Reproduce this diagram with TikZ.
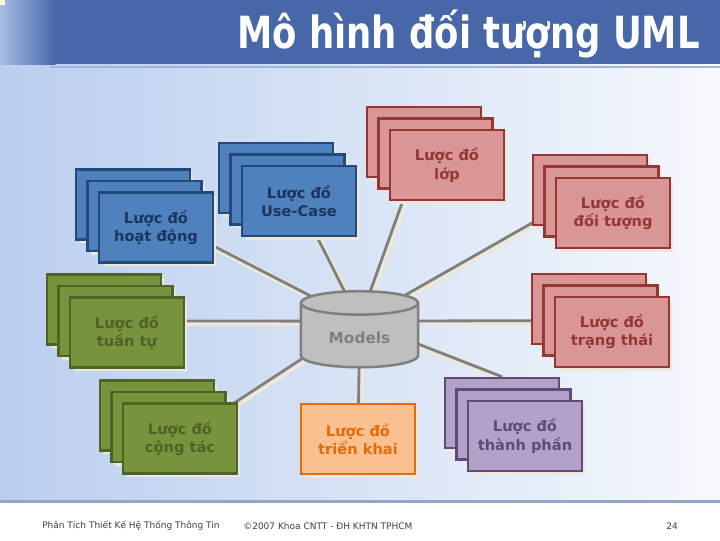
\documentclass[tikz,border=0pt]{standalone}
\usepackage{fontspec}
\setmainfont{DejaVu Sans}
\newfontfamily\titlefont{DejaVu Sans}[FakeStretch=0.8]
\usetikzlibrary{shapes.geometric,shadows,calc}
\definecolor{SlideLeft}{HTML}{BACEEE}
\definecolor{SlideRight}{HTML}{F6F9FD}
\definecolor{BarBlue}{HTML}{4767A9}
\definecolor{BarEdge}{HTML}{A6BDE6}
\definecolor{BarRule}{HTML}{9DB5E0}
\definecolor{FootRule}{HTML}{93A6C6}
\definecolor{FootText}{HTML}{404040}
\definecolor{Glow}{HTML}{ECE8DC}
\definecolor{LinkGray}{HTML}{7F7F7F}
\definecolor{BlueFill}{HTML}{4F81BD}
\definecolor{BlueLine}{HTML}{234A7C}
\definecolor{BlueText}{HTML}{1B3560}
\definecolor{RedFill}{HTML}{D99694}
\definecolor{RedLine}{HTML}{943634}
\definecolor{GreenFill}{HTML}{77933C}
\definecolor{GreenLine}{HTML}{4F6228}
\definecolor{OrangeFill}{HTML}{FAC090}
\definecolor{OrangeLine}{HTML}{E46C0A}
\definecolor{PurpleFill}{HTML}{B3A2C7}
\definecolor{PurpleLine}{HTML}{604A7B}
\definecolor{StoreFill}{HTML}{BFBFBF}
\definecolor{StoreLine}{HTML}{7F7F7F}
\pgfdeclarelayer{slide}
\pgfdeclarelayer{links}
\pgfsetlayers{slide,links,main}
\tikzset{
  diag/.style={draw,line width=1.8pt,minimum width=2.84cm,minimum height=1.75cm,align=center,inner sep=0pt,
    font=\bfseries\fontsize{10.4}{13}\selectfont,
    drop shadow={shadow xshift=2.5pt,shadow yshift=-2.5pt,fill=Glow,opacity=1}},
  bluediag/.style={diag,fill=BlueFill,draw=BlueLine,text=BlueText},
  reddiag/.style={diag,fill=RedFill,draw=RedLine,text=RedLine},
  greendiag/.style={diag,fill=GreenFill,draw=GreenLine,text=GreenLine},
  orangediag/.style={diag,fill=OrangeFill,draw=OrangeLine,text=OrangeLine},
  purplediag/.style={diag,fill=PurpleFill,draw=PurpleLine,text=PurpleLine},
  store/.style={cylinder,shape border rotate=90,aspect=0.33,draw=StoreLine,fill=StoreFill,text=StoreLine,line width=1.8pt,
    minimum width=2.93cm,minimum height=1.9cm,font=\bfseries\fontsize{10.9}{13}\selectfont},
  link/.style={draw=LinkGray,line width=2pt,
    preaction={draw=Glow,line width=4.5pt,transform canvas={shift={(1.3pt,-1.3pt)}}}},
  slidetitle/.style={text=white,inner sep=0pt,font=\titlefont\bfseries\fontsize{31.5}{36}\selectfont},
  foot/.style={text=FootText,inner sep=0pt,font=\fontsize{6.4}{7.5}\selectfont}
}
% three sheets, each one a little lower and further right
\newcommand\diagstack[4]{%
  \node[#2] (#1a) at (#3) {};
  \node[#2] (#1b) at ([shift={(11.5,11.5)}]#1a.center) {};
  \node[#2] (#1) at ([shift={(11.5,11.5)}]#1b.center) {#4};
}

\begin{document}
\begin{tikzpicture}[x=0.025cm,y=-0.025cm]
  \useasboundingbox (0,0) rectangle (720,540);
  \begin{pgfonlayer}{slide}
    \shade[left color=SlideLeft,right color=SlideRight] (0,0) rectangle (720,501);
    \fill[white] (0,501) rectangle (720,540);
    \draw[FootRule,line width=2pt] (0,501.5) -- (720,501.5);
    \fill[BarBlue] (55,0) rectangle (720,64);
    \shade[left color=BarEdge,right color=BarBlue] (0,0) rectangle (55.5,64);
    \draw[BarRule,line width=1.5pt] (50,67) -- (720,67);
    \fill[yellow!15] (0,0) rectangle (5,5);
  \end{pgfonlayer}

  \node[slidetitle,anchor=base east] (title) at (700,48) {Mô hình đối tượng UML};

  \node[store] (models) at (359.5,338) {Models};
  \coordinate (hub) at ([yshift=12pt]models.center);

  \diagstack{act}{bluediag}{133,204.5}{Lược đồ\\hoạt động}
  \diagstack{usecase}{bluediag}{276,178}{Lược đồ\\Use-Case}
  \diagstack{cls}{reddiag}{424,142}{Lược đồ\\lớp}
  \diagstack{obj}{reddiag}{590,190}{Lược đồ\\đối tượng}
  \diagstack{seq}{greendiag}{104,309.5}{Lược đồ\\tuần tự}
  \diagstack{state}{reddiag}{589,309}{Lược đồ\\trạng thái}
  \diagstack{collab}{greendiag}{157,415.5}{Lược đồ\\cộng tác}
  \diagstack{comp}{purplediag}{502,413}{Lược đồ\\thành phần}
  \node[orangediag] (deploy) at (358,439) {Lược đồ\\triển khai};

  \begin{pgfonlayer}{links}
    \draw[link] (hub) -- (acta.center);
    \draw[link] (hub) -- (usecase.center);
    \draw[link] (hub) -- (clsa.center);
    \draw[link] (hub) -- (obja.center);
    \draw[link] (hub) -- (seqb.center);
    \draw[link] (hub) -- (stateb.center);
    \draw[link] (hub) -- (collab.center);
    \draw[link] (models.center) -- (deploy.center);
    \draw[link] (hub) -- (compa.north);
  \end{pgfonlayer}

  \node[foot,anchor=west] (course) at (42,526) {Phân Tích Thiết Kế Hệ Thống Thông Tin};
  \node[foot,anchor=west] (rights) at (243,526) {©2007 Khoa CNTT - ĐH KHTN TPHCM};
  \node[foot] (page) at (672,526) {24};
\end{tikzpicture}
\end{document}
